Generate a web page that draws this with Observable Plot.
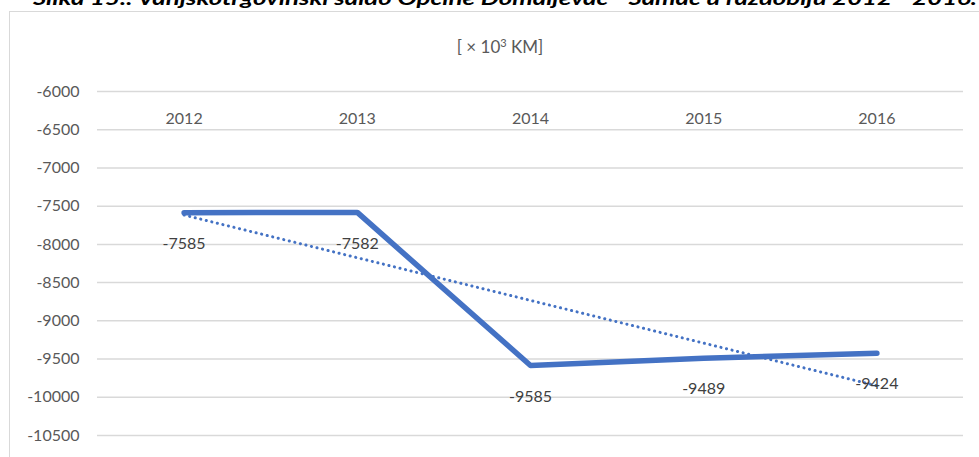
<!DOCTYPE html>
<html>
<head>
<meta charset="utf-8">
<script src="https://cdn.jsdelivr.net/npm/d3@7"></script>
<script src="https://cdn.jsdelivr.net/npm/@observablehq/plot@0.6"></script>
<style>
  html, body { margin: 0; padding: 0; background: #fff; }
  #wrap { position: relative; width: 979px; height: 457px; overflow: hidden; font-family: Lato, "Open Sans", sans-serif; }
  #frame { position: absolute; left: 9px; top: 11px; width: 1000px; height: 500px; border: 1px solid #d9d9d9; box-sizing: border-box; }
  #chart { position: absolute; left: 0; top: 0; }
  #unit { position: absolute; left: 0; width: 1000px; top: 36px; text-align: center; font-size: 17px; color: #595959; }
  #caption { position: absolute; left: 0; top: 0; }
</style>
</head>
<body>
<div id="wrap">
  <div id="frame"></div>
  <div id="chart"></div>
  <div id="unit">[ × 10<sup style="font-size:11px;vertical-align:6px;line-height:0">3</sup> KM]</div>
  <svg id="caption" width="979" height="20"><text x="33" y="5" textLength="944" lengthAdjust="spacingAndGlyphs" font-family="Lato" font-weight="bold" font-style="italic" font-size="19" fill="#000">Slika 15.: Vanjskotrgovinski saldo Općine Domaljevac - Šamac u razdoblju 2012 - 2016.</text></svg>
</div>
<script>
const years = [2012, 2013, 2014, 2015, 2016];
const values = [-7585, -7582, -9585, -9489, -9424];
const yTicks = [-6000, -6500, -7000, -7500, -8000, -8500, -9000, -9500, -10000, -10500];

const data = years.map((y, i) => ({year: y, value: values[i]}));
const blue = "#4472C4";

const chart = Plot.plot({
  width: 979,
  height: 457,
  marginTop: 91,
  marginBottom: 22,
  marginLeft: 97,
  marginRight: 16,
  style: {fontFamily: "Lato, 'Open Sans', sans-serif", fontSize: "16px", background: "transparent"},
  x: {domain: [2011.5, 2016.5]},
  y: {domain: [-10500, -6000]},
  marks: [
    Plot.gridY(yTicks, {stroke: "#d9d9d9", strokeOpacity: 1, strokeWidth: 1.5}),
    Plot.axisY(yTicks, {tickSize: 0, tickPadding: 18, fill: "#595959", fontSize: 16, label: null, tickFormat: d => String(d)}),
    Plot.axisX(years, {anchor: "top", tickSize: 0, tickPadding: 0, dy: 32, fill: "#595959", fontSize: 16, label: null, tickFormat: d => String(d)}),
    Plot.linearRegressionY(data, {x: "year", y: "value", ci: 0, stroke: blue, strokeWidth: 3, strokeDasharray: "0.1,5.6", strokeLinecap: "round"}),
    Plot.line(data, {x: "year", y: "value", stroke: blue, strokeWidth: 5.5, strokeLinecap: "round", strokeLinejoin: "round"}),
    Plot.text(data, {x: "year", y: "value", text: d => String(d.value), dy: 31, fill: "#404040", fontSize: 16})
  ]
});
document.getElementById("chart").appendChild(chart);
</script>
</body>
</html>
